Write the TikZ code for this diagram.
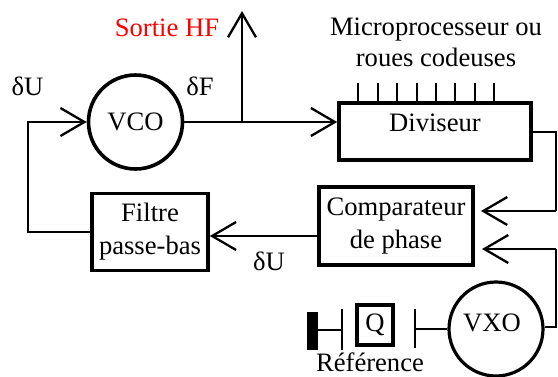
\documentclass[tikz,border=0pt]{standalone}
\usepackage{fontspec}
\setmainfont{Liberation Serif}
\usetikzlibrary{arrows.meta}
\begin{document}
\begin{tikzpicture}[x=1pt,y=-1pt,
 blk/.style={draw,line width=3.6pt,inner sep=0pt,align=center,font=\fontsize{26.6}{33}\selectfont},
 lbl/.style={inner sep=0pt,align=center,font=\fontsize{26.6}{33}\selectfont},
 wire/.style={line width=2.3pt},
 arr/.style={wire,-{Straight Barb[length=24pt,width=28pt,line width=2.3pt]}}]
\useasboundingbox (0,0) rectangle (558,376);
\node[blk,circle,minimum size=94pt] (vco) at (135.5,122) {VCO};
\node[blk,minimum width=192pt,minimum height=57pt] (div) at (435,131.5) {};
\node[lbl] (divt) at (435,123) {Diviseur};
\node[blk,minimum width=154pt,minimum height=78pt] (cmp) at (396,226) {Comparateur\\de phase};
\node[blk,minimum width=116pt,minimum height=77pt] (fil) at (150,232) {Filtre\\passe-bas};
\node[blk,circle,minimum size=94pt,line width=3.2pt] (vxo) at (496,329) {};
\node[lbl] (vxot) at (492,323) {VXO};
\node[blk,minimum width=36pt,minimum height=40pt,line width=3.2pt] (q) at (375,325) {Q};
\node[lbl] (ref) at (370,362) {Référence};
\node[lbl,text=red] (hf) at (167,28) {Sortie HF};
\node[lbl,font=\fontsize{26.6}{31}\selectfont] (mp) at (436,42) {Microprocesseur ou\\roues codeuses};
\node[lbl] (du1) at (27.5,86) {δU};
\node[lbl] (df) at (200,86) {δF};
\node[lbl] (du2) at (269,261) {δU};
\coordinate (t) at (242,11);
\coordinate (j) at (242,122);
\coordinate (c1) at (481,211);
\coordinate (c2) at (482,249);
\draw[arr] (vco) -- (div.west|-vco);
\draw[arr] (j) -- (t);
\draw[arr] (fil.west) -- (28,232) -- (28,122) -- (vco.west);
\draw[arr] (cmp.west|-0,236) -- (fil.east|-0,236);
\draw[wire] (div.east|-0,132) -- (556,132) -- (556,211);
\draw[arr] (556,211) -- (c1);
\draw[wire] (vxo.east|-0,327) -- (556,327) -- (556,249);
\draw[arr] (556,249) -- (c2);
\foreach \x in {358,378,397,417,436,455,475,494}{\draw[wire] (\x,83) -- (\x,101);}
\draw[wire] (342,309) -- (342,350);
\draw[wire] (415,309) -- (415,348);
\draw[wire] (415,329) -- (vxo.west);
\draw[wire] (342,330) -- (317,330);
\fill (307,312) rectangle (317.5,350);
\end{tikzpicture}
\end{document}
